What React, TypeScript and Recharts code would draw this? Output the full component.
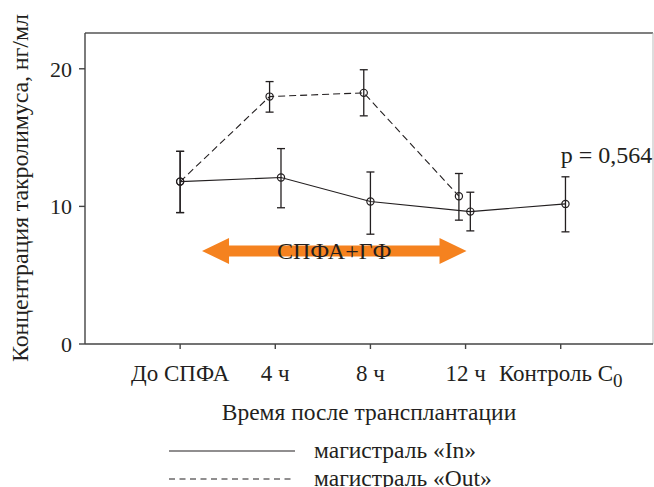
import React from 'react';
import { LineChart, Line, XAxis, YAxis, ErrorBar, ReferenceLine, ReferenceDot, Legend, Label } from 'recharts';

const FONT = "'Liberation Serif', 'Times New Roman', serif";
const INK = '#231f20';

const categories = ['До СПФА', '4 ч', '8 ч', '12 ч', 'Контроль C'];
const categoryTicks = [0, 1, 2, 3, 4];
const yTicks = [0, 10, 20];

const inX = [0, 1.06, 2.0, 3.05, 4.05];
const inValues = [11.8, 12.1, 10.35, 9.62, 10.18];
const inErrLow = [2.25, 2.2, 2.37, 1.4, 2.03];
const inErrHigh = [2.2, 2.1, 2.15, 1.41, 1.97];

const outX = [0, 0.94, 1.93, 2.93];
const outValues = [11.8, 17.98, 18.25, 10.74];
const outErrLow = [2.25, 1.13, 1.67, 1.74];
const outErrHigh = [2.2, 1.09, 1.68, 1.65];

const seriesNames = ['магистраль «In»', 'магистраль «Out»'];
const arrowStart = 0.23;
const arrowEnd = 3.01;
const arrowY = 6.76;
const arrowLabel = 'СПФА+ГФ';
const pLabel = 'p = 0,564';
const pX = 4.0;
const pY = 13.74;
const xTitle = 'Время после трансплантации';
const yTitle = 'Концентрация такролимуса, нг/мл';

const inData = inX.map((x, i) => ({ x, v: inValues[i], err: [inErrLow[i], inErrHigh[i]] }));
const outData = outX.map((x, i) => ({ x, v: outValues[i], err: [outErrLow[i], outErrHigh[i]] }));

const XTick = (props: any) => {
  const { x, y, payload } = props;
  const label = categories[payload.value];
  const isCtrl = payload.value === 4;
  return (
    <text x={x} y={y} dy="0.71em" textAnchor="middle" fontFamily={FONT} fontSize={23} fill={INK}>
      {isCtrl ? (
        <>
          <tspan>{label}</tspan>
          <tspan dy={6} fontSize={19}>0</tspan>
        </>
      ) : (
        label
      )}
    </text>
  );
};

const ArrowShape = (props: any) => {
  const { x1, y1, x2 } = props;
  const left = Math.min(x1, x2);
  const right = Math.max(x1, x2);
  const y = y1;
  const hl = 27;
  const hh = 13;
  const sh = 5.5;
  const pts = [
    [left, y],
    [left + hl, y - hh],
    [left + hl, y - sh],
    [right - hl, y - sh],
    [right - hl, y - hh],
    [right, y],
    [right - hl, y + hh],
    [right - hl, y + sh],
    [left + hl, y + sh],
    [left + hl, y + hh],
  ]
    .map((p) => p.join(','))
    .join(' ');
  return (
    <g>
      <polygon points={pts} fill="#f5821f" />
      <text x={(left + right) / 2} y={y} dominantBaseline="central" textAnchor="middle" fontFamily={FONT} fontSize={24} fill={INK}>
        {arrowLabel}
      </text>
    </g>
  );
};

const PShape = (props: any) => {
  const { cx, cy } = props;
  return (
    <text x={cx} y={cy} dominantBaseline="central" textAnchor="start" fontFamily={FONT} fontSize={24} fill={INK}>
      {pLabel}
    </text>
  );
};

const LegendContent = () => (
  <svg width={654} height={57} style={{ display: 'block', overflow: 'visible' }}>
    <line x1={169} y1={21} x2={295} y2={21} stroke={INK} strokeWidth={1.2} />
    <text x={314} y={20} dominantBaseline="central" fontFamily={FONT} fontSize={23.5} fill={INK}>
      {seriesNames[0]}
    </text>
    <line x1={169} y1={49} x2={295} y2={49} stroke={INK} strokeWidth={1.2} strokeDasharray="6 4.5" />
    <text x={314} y={48} dominantBaseline="central" fontFamily={FONT} fontSize={23.5} fill={INK}>
      {seriesNames[1]}
    </text>
  </svg>
);

export default function App() {
  return (
    <div style={{ position: 'absolute', left: 0, top: 0, width: 654, height: 487, background: '#fff', overflow: 'hidden' }}>
      <LineChart width={654} height={487} margin={{ top: 33, right: 1, left: 0, bottom: 0 }}>
        <XAxis
          dataKey="x"
          type="number"
          domain={[-1, 4.97]}
          ticks={categoryTicks}
          tick={<XTick />}
          tickSize={5}
          tickMargin={16}
          height={143}
          stroke="#444"
          strokeWidth={1.4}
          allowDuplicatedCategory={false}
        >
          <Label
            content={() => (
              <text x={369} y={412} dominantBaseline="central" textAnchor="middle" fontFamily={FONT} fontSize={23.5} fill={INK}>
                {xTitle}
              </text>
            )}
          />
        </XAxis>
        <YAxis
          type="number"
          domain={[0, 22.6]}
          ticks={yTicks}
          width={85}
          tickSize={6}
          tickMargin={7}
          stroke="#444"
          strokeWidth={1.4}
          tick={{ fontFamily: FONT, fontSize: 22, fill: INK }}
        >
          <Label
            content={() => (
              <text
                x={20}
                y={188}
                transform="rotate(-90, 20, 188)"
                dominantBaseline="central"
                textAnchor="middle"
                fontFamily={FONT}
                fontSize={24}
                textLength={348}
                lengthAdjust="spacing"
                fill={INK}
              >
                {yTitle}
              </text>
            )}
          />
        </YAxis>
        <ReferenceLine y={22.6} stroke="#555" strokeWidth={1.4} />
        <ReferenceLine x={4.97} stroke="#bbb" strokeWidth={1} />
        <ReferenceLine
          segment={[
            { x: arrowStart, y: arrowY },
            { x: arrowEnd, y: arrowY },
          ]}
          shape={<ArrowShape />}
        />
        <ReferenceDot x={pX} y={pY} r={0} shape={<PShape />} />
        <Line
          data={outData}
          dataKey="v"
          name={seriesNames[1]}
          stroke={INK}
          strokeWidth={1.1}
          strokeDasharray="7 4"
          dot={{ r: 3.6, fill: 'none', stroke: INK, strokeWidth: 1.2, strokeDasharray: '' }}
          isAnimationActive={false}
        >
          <ErrorBar dataKey="err" direction="y" width={4} stroke={INK} strokeWidth={1.3} />
        </Line>
        <Line
          data={inData}
          dataKey="v"
          name={seriesNames[0]}
          stroke={INK}
          strokeWidth={1.1}
          dot={{ r: 3.6, fill: 'none', stroke: INK, strokeWidth: 1.2 }}
          isAnimationActive={false}
        >
          <ErrorBar dataKey="err" direction="y" width={4} stroke={INK} strokeWidth={1.3} />
        </Line>
        <Legend
          layout="vertical"
          align="center"
          verticalAlign="bottom"
          content={<LegendContent />}
          wrapperStyle={{ position: 'absolute', left: 0, top: 430, width: 654, height: 0, overflow: 'visible' }}
        />
      </LineChart>
    </div>
  );
}
